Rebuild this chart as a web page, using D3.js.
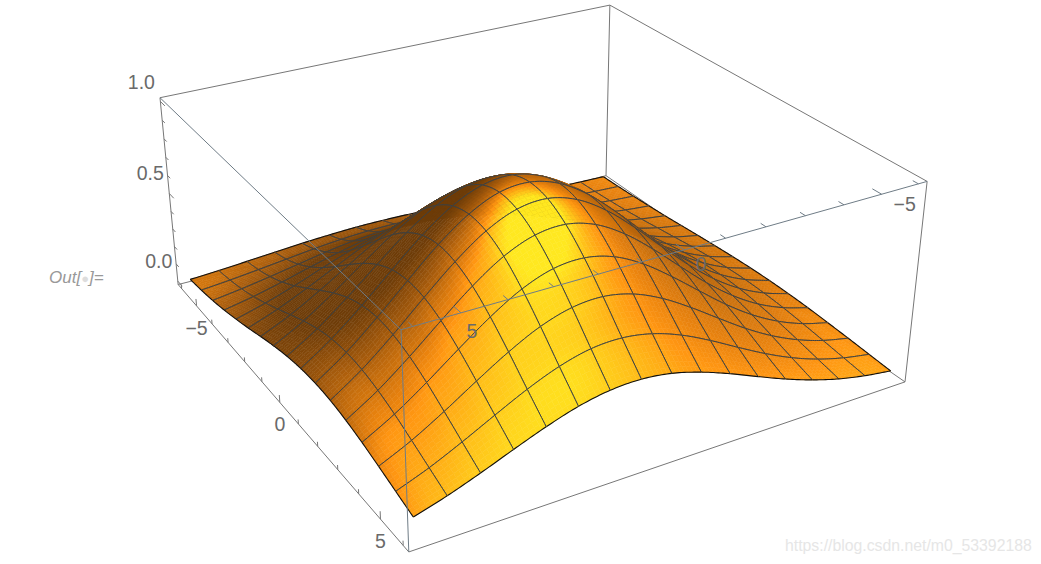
<!DOCTYPE html><html><head><meta charset="utf-8"><script src="https://cdn.jsdelivr.net/npm/d3@7"></script>
<style>html,body{margin:0;background:#fff}svg{display:block}</style></head><body><svg id="c" width="1041" height="564"></svg><script>
const xGrid=[-6,-5.25,-4.5,-3.75,-3,-2.25,-1.5,-0.75,0,0.75,1.5,2.25,3,3.75,4.5,5.25,6];
const yGrid=[-6,-5.25,-4.5,-3.75,-3,-2.25,-1.5,-0.75,0,0.75,1.5,2.25,3,3.75,4.5,5.25,6];
const surfaceZ=[
[.006,.010,.016,.024,.035,.046,.059,.070,.078,.081,.080,.074,.065,.053,.041,.029,.020],
[.009,.016,.025,.038,.055,.074,.093,.110,.123,.129,.127,.118,.103,.084,.065,.047,.032],
[.014,.024,.038,.058,.083,.112,.141,.167,.186,.196,.193,.179,.156,.127,.098,.071,.048],
[.020,.034,.055,.084,.120,.161,.203,.241,.269,.282,.278,.258,.224,.184,.141,.102,.070],
[.027,.047,.076,.115,.165,.221,.280,.332,.370,.388,.383,.354,.309,.253,.194,.141,.096],
[.036,.062,.100,.151,.216,.290,.366,.435,.485,.509,.501,.465,.405,.331,.255,.184,.125],
[.045,.077,.124,.189,.270,.363,.458,.543,.606,.635,.626,.580,.505,.414,.318,.230,.157],
[.053,.092,.148,.225,.321,.432,.545,.647,.722,.757,.746,.691,.602,.493,.379,.274,.187],
[.060,.104,.168,.255,.365,.490,.619,.734,.819,.859,.846,.784,.683,.559,.430,.311,.212],
[.065,.112,.182,.276,.395,.530,.669,.794,.886,.929,.915,.848,.739,.605,.465,.337,.229],
[.067,.116,.187,.285,.407,.546,.690,.819,.913,.957,.944,.874,.762,.623,.480,.347,.236],
[.066,.114,.184,.280,.400,.537,.678,.804,.897,.941,.927,.859,.748,.613,.471,.341,.232],
[.062,.107,.172,.262,.374,.503,.635,.753,.840,.881,.868,.805,.701,.574,.441,.319,.217],
[.055,.095,.154,.234,.334,.449,.566,.672,.750,.786,.775,.718,.625,.512,.394,.285,.194],
[.047,.081,.131,.199,.284,.382,.482,.572,.638,.669,.659,.611,.532,.436,.335,.242,.165],
[.038,.066,.106,.161,.230,.309,.391,.464,.517,.542,.535,.495,.431,.353,.272,.197,.134],
[.029,.051,.082,.125,.178,.239,.302,.358,.400,.419,.413,.383,.333,.273,.210,.152,.103]];
const xTicks=[-6,-5,-4,-3,-2,-1,0,1,2,3,4,5,6], yTicks=[-6,-5,-4,-3,-2,-1,0,1,2,3,4,5,6], zTicks=[0,.1,.2,.3,.4,.5,.6,.7,.8,.9,1];
const xLabels=[-5,0,5], yLabels=[-5,0,5], zLabels=[0,0.5,1];
const boxCorners=[[0,0,0,606,176],[1,0,0,905,382],[1,1,0,409,552],[0,1,0,178,284],[0,0,1,610,5],[1,0,1,927,181],[1,1,1,401,330],[0,1,1,160,98]];
function solveCam(pts){const A=[],B=[];pts.forEach(([X,Y,Z,px,py])=>{px/=500;py/=500;A.push([X,Y,Z,1,0,0,0,0,-px*X,-px*Y,-px*Z]);B.push(px);A.push([0,0,0,0,X,Y,Z,1,-py*X,-py*Y,-py*Z]);B.push(py);});
const n=11,M=d3.range(n).map(i=>d3.range(n+1).map(j=>j<n?d3.sum(A,(r)=>r[i]*r[j]):d3.sum(A,(r,k)=>r[i]*B[k])));
for(let i=0;i<n;i++){let p=i;for(let r=i;r<n;r++)if(Math.abs(M[r][i])>Math.abs(M[p][i]))p=r;[M[i],M[p]]=[M[p],M[i]];for(let r=0;r<n;r++)if(r!==i){const f=M[r][i]/M[i][i];for(let c=i;c<=n;c++)M[r][c]-=f*M[i][c];}}
return M.map((r,i)=>r[n]/r[i]);}
const C=solveCam(boxCorners);
const sx=d3.scaleLinear().domain([-6.24,6.24]).range([0,1]), sy=sx.copy(), sz=d3.scaleLinear().domain([-0.02,1.02]).range([0,1]);
function proj(x,y,z){const X=sx(x),Y=sy(y),Z=sz(z),w=C[8]*X+C[9]*Y+C[10]*Z+1;return [500*(C[0]*X+C[1]*Y+C[2]*Z+C[3])/w,500*(C[4]*X+C[5]*Y+C[6]*Z+C[7])/w];}
const N=xGrid.length-1;
function g(i,j){if(i<0)return 2*g(0,j)-g(1,j);if(i>N)return 2*g(N,j)-g(N-1,j);if(j<0)return 2*g(i,0)-g(i,1);if(j>N)return 2*g(i,N)-g(i,N-1);return surfaceZ[i][j];}
function cr(a,b,c,d,t){return b+0.5*t*(c-a+t*(2*a-5*b+4*c-d+t*(3*(b-c)+d-a)));}
function zAt(fx,fy){const i=Math.min(N-1,Math.floor(fx)),j=Math.min(N-1,Math.floor(fy)),t=fx-i,u=fy-j;const r=[-1,0,1,2].map(k=>cr(g(i+k,j-1),g(i+k,j),g(i+k,j+1),g(i+k,j+2),u));return cr(r[0],r[1],r[2],r[3],t);}
const xF=d3.scaleLinear().domain([0,N]).range([xGrid[0],xGrid[N]]), yF=d3.scaleLinear().domain([0,N]).range([yGrid[0],yGrid[N]]);
function P3(fx,fy){return proj(xF(fx),yF(fy),zAt(fx,fy));}
const ramp=d3.scaleLinear().domain([-1.15,-0.6,0,0.25,1]).range(["#6e3c08","#a85c0c","#e8820e","#ff9612","#ffe820"]).clamp(true);
const sstep=(a,b,v)=>{const t=Math.max(0,Math.min(1,(v-a)/(b-a)));return t*t*(3-2*t);};
function shade(fx,fy){const e=0.08,k=4.8*(1/0.75);const a=Math.max(0,fx-e),b=Math.min(N,fx+e),c=Math.max(0,fy-e),d=Math.min(N,fy+e);
const zx=(zAt(b,fy)-zAt(a,fy))/(b-a)*k,zy=(zAt(fx,d)-zAt(fx,c))/(d-c)*k,l=Math.hypot(zx,zy,1),nx=-zx/l,ny=-zy/l;
const lobe=2*Math.exp(-((nx-0.36)**2/0.13+(ny-0.15)**2/0.22))-0.5;
const dark=-1.2*Math.max(0,ny-1.3*nx-0.2)-0.3*sstep(0.5,0.8,-ny);
const pos=0.15*(fx-fy)/16-0.6*sstep(0.8,1,(fx+fy)/32);
return ramp(lobe+dark+pos);}
const SUB=7,marks=[],line=d3.line();
for(let i=0;i<N;i++)for(let j=0;j<N;j++){
 for(let a=0;a<SUB;a++)for(let b=0;b<SUB;b++){const f0=i+a/SUB,f1=i+(a+1)/SUB,h0=j+b/SUB,h1=j+(b+1)/SUB,col=shade((f0+f1)/2,(h0+h1)/2);
  marks.push({d:line([P3(f0,h0),P3(f1,h0),P3(f1,h1),P3(f0,h1)])+"Z",fill:col,stroke:col,w:0.5});}
 const ts=d3.range(0,13).map(k=>k/12);
 const edges=[[ts.map(t=>P3(i+t,j)),j===0],[ts.map(t=>P3(i,j+t)),i===0],[ts.map(t=>P3(i+t,j+1)),j===N-1],[ts.map(t=>P3(i+1,j+t)),i===N-1]];
 edges.forEach(([pts,b])=>marks.push({d:line(pts),fill:"none",stroke:b?"#111":"#3b4145",w:b?1.1:1}));
}
const svg=d3.select("#c");
const edge=(a,b)=>line([proj(...a),proj(...b)]);
const xm=6.24,z0=-0.02,z1=1.02;
const backEdges=[[[-xm,-xm,z0],[-xm,-xm,z1]],[[-xm,-xm,z1],[xm,-xm,z1]],[[-xm,-xm,z1],[-xm,xm,z1]],[[-xm,-xm,z0],[xm,-xm,z0]],[[-xm,-xm,z0],[-xm,xm,z0]],[[xm,-xm,z0],[xm,-xm,z1]],[[-xm,xm,z0],[-xm,xm,z1]],[[-xm,xm,z0],[xm,xm,z0]],[[xm,-xm,z0],[xm,xm,z0]]];
const frontEdges=[[[xm,xm,z0],[xm,xm,z1]],[[xm,xm,z1],[xm,-xm,z1]],[[xm,xm,z1],[-xm,xm,z1]]];
svg.append("g").selectAll("path").data(backEdges).join("path").attr("d",d=>edge(...d)).attr("stroke","#777").attr("fill","none").attr("stroke-width",1);
const tick=[];
xTicks.forEach(x=>{const L=xLabels.includes(x)?0.04:0.024;tick.push([[x,xm,z0],[x,xm,z0+L]]);});
zTicks.forEach(z=>{const L=zLabels.includes(z)?0.3:0.18;tick.push([[-xm,xm,z],[-xm+L,xm,z]]);});
svg.append("g").selectAll("path").data(tick).join("path").attr("d",d=>edge(...d)).attr("stroke","#777").attr("fill","none").attr("stroke-width",1);
svg.append("g").selectAll("path").data(marks).join("path").attr("d",d=>d.d).attr("fill",d=>d.fill).attr("stroke",d=>d.stroke).attr("stroke-width",d=>d.w).attr("stroke-linejoin","round");
const tickF=[];yTicks.forEach(y=>{const L=yLabels.includes(y)?0.3:0.18;tickF.push([[xm,y,z1],[xm-L,y,z1]]);});
svg.append("g").selectAll("path").data(frontEdges.concat(tickF)).join("path").attr("d",d=>edge(...d)).attr("stroke","#6f7c86").attr("fill","none").attr("stroke-width",1);
const tf=d=>String(d).replace("-","\u2212");
const text=(sel,dat,f,fmt)=>sel.selectAll(null).data(dat).join("text").attr("x",d=>f(d)[0]).attr("y",d=>f(d)[1]).text(fmt).attr("text-anchor","middle").attr("font-family","'Liberation Sans',sans-serif").attr("font-size",19.5).attr("fill","#6a6a6a");
const gt=svg.append("g");
text(gt,xLabels,d=>{const p=proj(d,xm,z0);return [p[0],p[1]+29];},tf);
text(gt,yLabels,d=>{const p=proj(xm,d,z1);return [p[0]+17-1.2*d,p[1]+21+0.8*d];},tf);
text(gt,zLabels,d=>{const p=proj(-xm,xm,d);return [p[0]-19,p[1]+(d===1?-12:d===0.5?-14:-13)];},d=>d.toFixed(1));
const o=svg.append("text").attr("x",49).attr("y",283).attr("font-family","'Liberation Sans',sans-serif").attr("font-style","italic").attr("font-size",17).attr("fill","#999");
o.append("tspan").text("Out[");o.append("tspan").attr("fill","#ddd").attr("font-size",13).text("\u25CF");o.append("tspan").text("]=");
svg.append("text").attr("x",785).attr("y",551).attr("font-family","'Liberation Sans',sans-serif").attr("font-size",15.8).attr("fill","#e6e6e6").text("https://blog.csdn.net/m0_53392188");
</script></body></html>
